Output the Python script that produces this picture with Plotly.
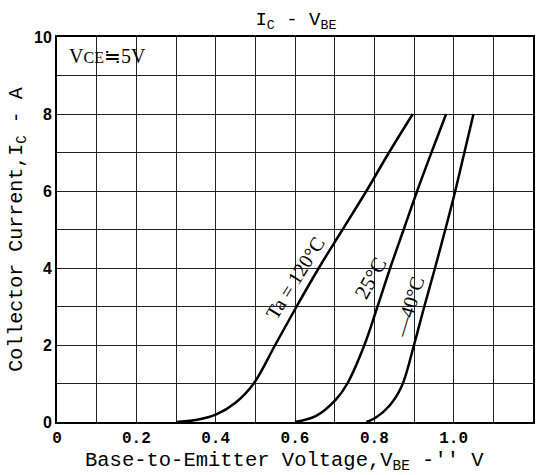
import plotly.graph_objects as go

# Data
v_120 = [0.30, 0.35, 0.40, 0.45, 0.496, 0.55, 0.604, 0.66, 0.72, 0.78, 0.837, 0.897]
i_120 = [0.0, 0.05, 0.19, 0.5, 1.0, 2.0, 3.0, 4.0, 5.0, 6.0, 7.0, 8.0]

v_25 = [0.60, 0.652, 0.703, 0.732, 0.775, 0.808, 0.840, 0.874, 0.908, 0.944, 0.981]
i_25 = [0.0, 0.15, 0.58, 1.0, 2.0, 3.0, 4.0, 5.0, 6.0, 7.0, 8.0]

v_m40 = [0.78, 0.803, 0.837, 0.869, 0.90, 0.926, 0.953, 0.979, 1.004, 1.027, 1.05]
i_m40 = [0.0, 0.11, 0.41, 0.93, 2.0, 3.0, 4.0, 5.0, 6.0, 7.0, 8.0]

x_ticks = [round(0.1 * k, 1) for k in range(13)]
x_tick_labels = ["0", "", "0.2", "", "0.4", "", "0.6", "", "0.8", "", "1.0", "", "1.2"]
y_ticks = list(range(11))
y_tick_labels = ["0", "", "2", "", "4", "", "6", "", "8", "", "10"]

labels = [
    ("Ta = 120°C", 0.600, 3.74, -58, 20),
    ("25°C", 0.791, 3.74, -61, 21),
    ("—40°C", 0.886, 3.0, -73, 20),
]

fig = go.Figure()
for xs, ys in [(v_120, i_120), (v_25, i_25), (v_m40, i_m40)]:
    fig.add_trace(go.Scatter(x=xs, y=ys, mode="lines",
                             line=dict(color="black", width=2.5, shape="spline", smoothing=1.0),
                             showlegend=False, hoverinfo="skip"))

for text, x, y, ang, sz in labels:
    fig.add_annotation(x=x, y=y, text=text, textangle=ang, showarrow=False,
                       font=dict(family="Liberation Serif", size=sz, color="black"))

fig.add_annotation(x=0.026, y=9.5, xanchor="left", yanchor="middle",
                   text="V<span style='font-size:16px'>CE</span>≒5V", showarrow=False,
                   font=dict(family="Liberation Serif", size=20, color="black"))

fig.add_annotation(xref="paper", yref="paper", x=0.478, y=-0.066,
                   xanchor="center", yanchor="top", showarrow=False,
                   text="Base-to-Emitter Voltage,V<sub>BE</sub> -'' V",
                   font=dict(family="Liberation Mono", size=20.5, color="black"))

fig.update_layout(
    width=542, height=475,
    margin=dict(l=57, r=7, t=37, b=53),
    paper_bgcolor="white", plot_bgcolor="white",
    title=dict(text="I<sub>C</sub> - V<sub>BE</sub>", x=0.546, xanchor="center",
               y=0.962, yanchor="middle",
               font=dict(family="Liberation Mono", size=19, color="black")),
)
fig.update_xaxes(range=[0, 1.2], tickvals=x_ticks, ticktext=x_tick_labels,
                 showgrid=True, gridcolor="#222", gridwidth=1,
                 showline=True, linecolor="black", linewidth=2, mirror=True,
                 ticks="", zeroline=False,
                 tickfont=dict(family="Liberation Mono", size=16, color="black", weight="bold"))
fig.update_yaxes(range=[0, 10], tickvals=y_ticks, ticktext=y_tick_labels,
                 showgrid=True, gridcolor="#222", gridwidth=1,
                 showline=True, linecolor="black", linewidth=2, mirror=True,
                 ticks="", zeroline=False,
                 tickfont=dict(family="Liberation Sans", size=16, color="black", weight="bold"),
                 title=dict(text="Collector Current,I<sub>C</sub> - A",
                            font=dict(family="Liberation Mono", size=20, color="black"),
                            standoff=6))

fig.write_html("out.html", config={"displayModeBar": False},
               post_script="document.body.style.margin='0';document.body.style.overflow='hidden';")
